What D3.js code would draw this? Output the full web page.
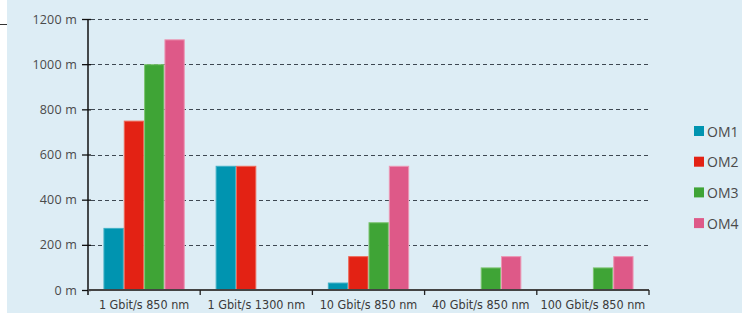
<!DOCTYPE html>
<html>
<head>
<meta charset="utf-8">
<script src="https://cdn.jsdelivr.net/npm/d3@7"></script>
<style>
  html, body { margin: 0; padding: 0; background: #fff; }
  svg { display: block; }
</style>
</head>
<body>
<svg id="chart"></svg>
<script>
const categories = ['1 Gbit/s 850 nm', '1 Gbit/s 1300 nm', '10 Gbit/s 850 nm', '40 Gbit/s 850 nm', '100 Gbit/s 850 nm'];
const seriesNames = ['OM1', 'OM2', 'OM3', 'OM4'];
const om1 = [275, 550, 33, 0, 0];
const om2 = [750, 550, 150, 0, 0];
const om3 = [1000, 0, 300, 100, 100];
const om4 = [1110, 0, 550, 150, 150];
const yTicks = [0, 200, 400, 600, 800, 1000, 1200];

const colors = { OM1: '#0094B0', OM2: '#E32214', OM3: '#3FA436', OM4: '#DE5988' };
const strokes = { OM1: '#3fb0c6', OM2: '#ee6a5a', OM3: '#7cc470', OM4: '#ec97b4' };

const width = 742;
const height = 313;
const plot = { left: 88, right: 649, top: 19, bottom: 290 };

const svg = d3.select('#chart').attr('width', width).attr('height', height);

// Background panel
svg.append('rect').attr('x', 7).attr('y', 0).attr('width', width - 7).attr('height', height).attr('fill', '#DDEDF5');
svg.append('line').attr('x1', 0).attr('x2', 7).attr('y1', 24.5).attr('y2', 24.5).attr('stroke', '#333').attr('stroke-width', 1);

const table = categories.map((c, i) => ({ cat: c, OM1: om1[i], OM2: om2[i], OM3: om3[i], OM4: om4[i] }));

// Scales
const x0 = d3.scaleBand().domain(categories).range([plot.left, plot.right]).padding(0);
const x1 = d3.scaleBand().domain(seriesNames).range([0, x0.bandwidth()]).paddingInner(0).paddingOuter(0.76);
const y = d3.scaleLinear().domain([0, 1200]).range([plot.bottom, plot.top]);

// Grid lines (dashed)
svg.append('g')
  .selectAll('line')
  .data(yTicks.filter((t) => t > 0))
  .join('line')
  .attr('x1', plot.left + 3)
  .attr('x2', plot.right)
  .attr('y1', (d) => Math.round(y(d)) + 0.5)
  .attr('y2', (d) => Math.round(y(d)) + 0.5)
  .attr('stroke', '#3d4852')
  .attr('stroke-width', 1.2)
  .attr('stroke-dasharray', '4,3');

// Bars
svg.append('g')
  .selectAll('g')
  .data(table)
  .join('g')
  .attr('transform', (d) => `translate(${x0(d.cat)},0)`)
  .selectAll('rect')
  .data((d) => seriesNames.map((s) => ({ key: s, value: d[s] })).filter((d) => d.value > 0))
  .join('rect')
  .attr('x', (d) => x1(d.key) + 0.5)
  .attr('y', (d) => y(d.value) + 0.5)
  .attr('width', x1.bandwidth() - 1)
  .attr('height', (d) => y(0) - y(d.value) - 0.5)
  .attr('fill', (d) => colors[d.key])
  .attr('stroke', (d) => strokes[d.key])
  .attr('stroke-width', 1);

// Y axis
const yAxis = svg.append('g')
  .attr('transform', `translate(${plot.left},0)`)
  .call(d3.axisLeft(y).tickValues(yTicks).tickSize(6).tickPadding(5).tickFormat((d) => `${d} m`));
yAxis.select('.domain').remove();
yAxis.selectAll('.tick line').attr('x2', -6).attr('x1', 3).attr('stroke', '#111').attr('stroke-width', 1.3);
yAxis.selectAll('.tick text')
  .attr('font-family', '"Open Sans", "Noto Sans", sans-serif')
  .attr('font-size', 12.5)
  .attr('letter-spacing', 0.2)
  .attr('fill', '#4a4a4a')
  .attr('x', -11);
svg.append('line')
  .attr('x1', plot.left).attr('x2', plot.left)
  .attr('y1', y(1200)).attr('y2', plot.bottom + 5)
  .attr('stroke', '#111').attr('stroke-width', 1.5);

// X axis
const xAxis = svg.append('g')
  .attr('transform', `translate(0,${plot.bottom})`)
  .call(d3.axisBottom(x0).tickSize(0).tickPadding(10));
xAxis.select('.domain').remove();
xAxis.append('line')
  .attr('x1', plot.left).attr('x2', plot.right)
  .attr('y1', 0).attr('y2', 0)
  .attr('stroke', '#444').attr('stroke-width', 2);
xAxis.selectAll('.bound')
  .data(categories.slice(1).map((c) => x0(c)).concat([plot.right]))
  .join('line')
  .attr('class', 'bound')
  .attr('x1', (d) => d).attr('x2', (d) => d)
  .attr('y1', 0).attr('y2', 5)
  .attr('stroke', '#222').attr('stroke-width', 1.3);
xAxis.selectAll('.tick text')
  .attr('font-family', '"Liberation Sans Narrow", "DejaVu Sans Condensed", sans-serif')
  .attr('font-size', 12.5)
  .attr('fill', '#3a3a3a');

// Legend
const legend = svg.append('g')
  .selectAll('g')
  .data(seriesNames)
  .join('g')
  .attr('transform', (d, i) => `translate(694,${131 + i * 30.7})`);
legend.append('rect')
  .attr('x', 0).attr('y', -5)
  .attr('width', 10).attr('height', 10)
  .attr('fill', (d) => colors[d]);
legend.append('text')
  .attr('x', 13).attr('y', 5.5)
  .attr('font-family', '"Open Sans", "Noto Sans", sans-serif')
  .attr('font-size', 14)
  .attr('fill', '#4a4a4a')
  .text((d) => d);
</script>
</body>
</html>
